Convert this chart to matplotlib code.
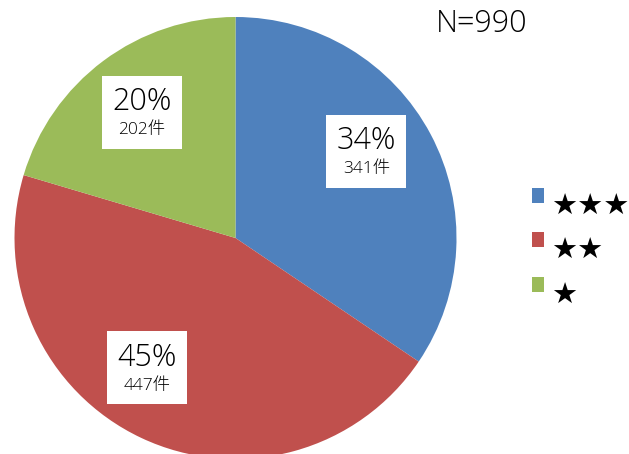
import numpy as np
import matplotlib
matplotlib.use("Agg")
import matplotlib.pyplot as plt
from matplotlib.patches import Patch, Rectangle
from matplotlib.legend_handler import HandlerPatch
from matplotlib.offsetbox import TextArea, VPacker, AnnotationBbox

categories = ["★★★", "★★", "★"]
counts = [341, 447, 202]
colors = ["#4F81BD", "#C0504D", "#9BBB59"]
total_label = "N=990"

W, H = 629, 454
fig = plt.figure(figsize=(W / 100, H / 100), dpi=100)

# square axes holding a unit-radius pie
cx, cy, r = 235.5, 238.0, 221.0
ax = fig.add_axes([(cx - r) / W, (H - cy - r) / H, 2 * r / W, 2 * r / H])
wedges, _ = ax.pie(counts, colors=colors, startangle=90, counterclock=False,
                   radius=1.0, wedgeprops=dict(linewidth=0))
ax.set_xlim(-1, 1)
ax.set_ylim(-1, 1)
ax.set_aspect("equal")
ax.axis("off")

label_font = ["Open Sans", "Noto Sans CJK JP", "DejaVu Sans"]
txt = dict(family=label_font, color="black", fontweight="light")
total = sum(counts)
angle_nudge = [5.5, -9.0, 0.0]
start = 90.0
for n, w, nudge in zip(counts, wedges, angle_nudge):
    span = n / total * 360.0
    mid = np.deg2rad(start - span / 2 + nudge)
    start -= span
    pos = (0.71 * np.cos(mid), 0.71 * np.sin(mid))
    big = TextArea(f"{n / total:.0%}", textprops=dict(fontsize=22, **txt))
    small = TextArea(f"{n}件", textprops=dict(fontsize=12.5, **txt))
    box = VPacker(children=[big, small], align="center", pad=0, sep=3)
    ab = AnnotationBbox(box, pos, xycoords="data", frameon=True, fontsize=10,
                        bboxprops=dict(facecolor="white", edgecolor="none",
                                       boxstyle="square,pad=0.75"))
    ax.add_artist(ab)


def raised_square(legend, orig_handle, xdescent, ydescent, width, height, fontsize):
    # colour key sits a little above the centre line of its label
    return Rectangle((-xdescent, -ydescent + 6.5), width, height)


handles = [Patch(facecolor=c, edgecolor="none") for c in colors]
fig.legend(handles, categories, loc="upper left",
           bbox_to_anchor=(532 / W, 1 - 193 / H), frameon=False,
           prop=dict(family="DejaVu Sans", size=21),
           handlelength=0.42, handleheight=0.42, handletextpad=0.25,
           labelspacing=0.56, borderpad=0, borderaxespad=0,
           handler_map={Patch: HandlerPatch(patch_func=raised_square)})

fig.text(436 / W, 1 - 32 / H, total_label, ha="left", va="baseline",
         fontsize=22, **txt)

fig.savefig("out.png", dpi=100)
